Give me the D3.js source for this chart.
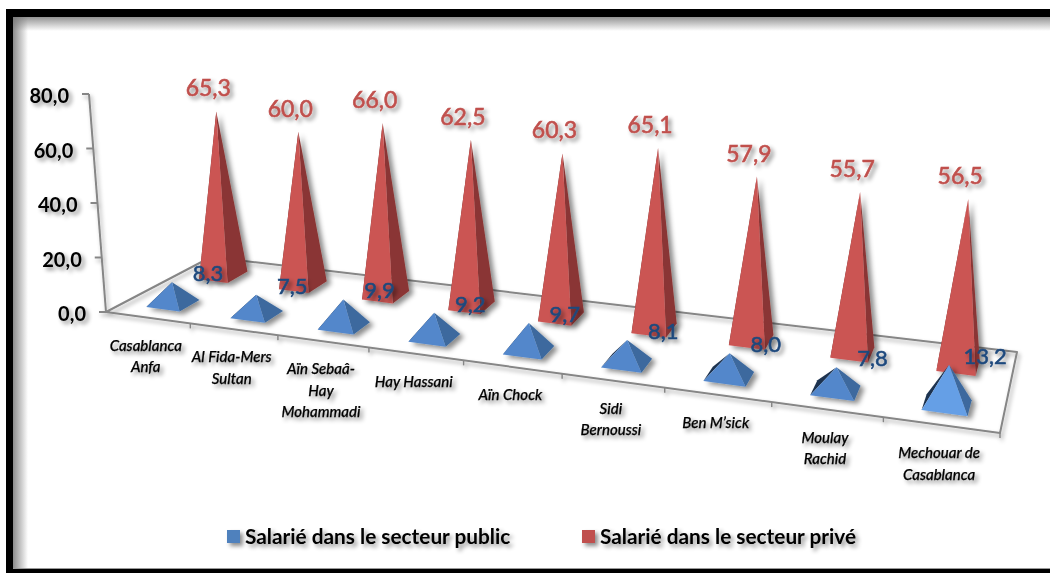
<!DOCTYPE html>
<html><head><meta charset="utf-8">
<script src="https://cdn.jsdelivr.net/npm/d3@7"></script>
<style>html,body{margin:0;padding:0;background:#fff;overflow:hidden}svg{display:block}text{font-family:Lato,"Noto Sans",sans-serif}</style>
</head><body><svg id="c" width="1050" height="573"></svg>
<script>
const categories=[["Casablanca","Anfa"],["Al Fida-Mers","Sultan"],["Aïn Sebaâ-","Hay","Mohammadi"],["Hay Hassani"],["Aïn Chock"],["Sidi","Bernoussi"],["Ben M’sick"],["Moulay","Rachid"],["Mechouar de","Casablanca"]];
const publicValues=[8.3,7.5,9.9,9.2,9.7,8.1,8.0,7.8,13.2];
const privateValues=[65.3,60.0,66.0,62.5,60.3,65.1,57.9,55.7,56.5];
const yTicks=[0,20,40,60,80];
const seriesNames=["Salarié dans le secteur public","Salarié dans le secteur privé"];

const fmt=v=>d3.format(".1f")(v).replace(".",",");
const svg=d3.select("#c");
const defs=svg.append("defs");
function shadow(id,dx,dy,b,o){const f=defs.append("filter").attr("id",id).attr("x","-30%").attr("y","-30%").attr("width","170%").attr("height","170%");
 f.append("feDropShadow").attr("dx",dx).attr("dy",dy).attr("stdDeviation",b).attr("flood-color","#000").attr("flood-opacity",o);}
shadow("sT",3,3,2.2,.45);shadow("sM",4,3,2.5,.45);shadow("sL",2,3,2,.35);
function grad(id,x1,y1,x2,y2){const g=defs.append("linearGradient").attr("id",id).attr("x1",x1).attr("y1",y1).attr("x2",x2).attr("y2",y2);
 g.append("stop").attr("offset",0).attr("stop-color","#777").attr("stop-opacity",.85);g.append("stop").attr("offset",1).attr("stop-color","#777").attr("stop-opacity",0);}
grad("gT",0,0,0,1);grad("gL",0,0,1,0);

// frame
svg.append("rect").attr("x",13).attr("y",16).attr("width",1037).attr("height",15).attr("fill","url(#gT)");
svg.append("rect").attr("x",13).attr("y",16).attr("width",15).attr("height",553).attr("fill","url(#gL)");
svg.append("rect").attr("x",6).attr("y",9).attr("width",1044).attr("height",8).attr("fill","#000");
svg.append("rect").attr("x",6).attr("y",9).attr("width",7).attr("height",564).attr("fill","#000");
svg.append("rect").attr("x",6).attr("y",569).attr("width",1044).attr("height",4).attr("fill","#000");
svg.append("rect").attr("x",13).attr("y",568).attr("width",1037).attr("height",1).attr("fill","#999");

// projection of the chart floor
const frontX=d3.scaleLinear().domain([0,1]).range([106,1000]),frontY=d3.scaleLinear().domain([0,1]).range([312,433]);
const backX=d3.scaleLinear().domain([0,1]).range([211,1017]),backY=d3.scaleLinear().domain([0,1]).range([257,352]);
const warp=t=>t/(1.2-0.2*t);
const catScale=d3.scaleLinear().domain([0,categories.length]).range([0,1]);
function floor(c,v){const f=warp(catScale(c));
 return [frontX(f)+(backX(f)-frontX(f))*v,frontY(f)+(backY(f)-frontY(f))*v];}
const lean=d3.scaleLinear().domain([0,1]).range([-0.125,0.2]);
const rise=(f,v)=>2.49+0.49*f+(0.75-v)*(0.13+0.12*f);
function apex(c,v,val){const p=floor(c,v),f=warp(catScale(c));return [p[0]+lean(f)*val,p[1]-rise(f,v)*val];}
const path=pts=>d3.line()(pts)+"Z";

// axis
const axisX=d3.scaleLinear().domain([0,80]).range([106,89]),axisY=d3.scaleLinear().domain([0,80]).range([312,94]);
const n=categories.length;
const grid=svg.append("g").attr("filter","url(#sL)").attr("fill","none").attr("stroke","#868686").attr("stroke-width",2);
grid.append("path").attr("d",path([floor(0,0),floor(n,0),floor(n,1),floor(0,1)])).attr("stroke-linejoin","round");
grid.append("line").attr("x1",axisX(0)).attr("y1",axisY(0)).attr("x2",axisX(80)).attr("y2",axisY(80));
grid.selectAll(".yt").data(yTicks).join("line").attr("x1",d=>axisX(d)-7).attr("y1",d=>axisY(d)).attr("x2",d=>axisX(d)).attr("y2",d=>axisY(d));
grid.selectAll(".xt").data(d3.range(1,n+1)).join("line").attr("stroke-width",1.5).attr("x1",d=>floor(d,0)[0]).attr("y1",d=>floor(d,0)[1]).attr("x2",d=>floor(d,0)[0]).attr("y2",d=>floor(d,0)[1]+5);

// pyramids
function pyramid(g,c,v,val,hu,hv,cols){
 const L=floor(c-hu,v-hv),F=floor(c+hu,v-hv),R=floor(c+hu,v+hv),B=floor(c-hu,v+hv),A=apex(c,v,val);
 const p=g.append("g").attr("filter","url(#sM)");
 p.append("path").attr("d",path([B,L,A])).attr("fill",cols[2]);
 p.append("path").attr("d",path([F,R,A])).attr("fill",cols[1]);
 p.append("path").attr("d",path([L,F,A])).attr("fill",cols[0]);
}
const gRed=svg.append("g"),gBlue=svg.append("g");
privateValues.forEach((d,i)=>pyramid(gRed,i+.5,.75,d,.18,.1,["#cb5553","#8a3634","#6e2b2a"]));
publicValues.forEach((d,i)=>pyramid(gBlue,i+.5,.25,d,.2,.1,[i===8?"#659fe6":"#5387cb","#3c699e","#1d3350"]));

// text
const gT=svg.append("g").attr("filter","url(#sT)");
gT.selectAll(".yl").data(yTicks).join("text").attr("x",d=>axisX(d)-20).attr("y",d=>axisY(d)+9).attr("text-anchor","end")
 .attr("font-size",20).attr("font-weight",700).attr("fill","#000").text(fmt);
gT.selectAll(".rv").data(privateValues).join("text").attr("text-anchor","middle").attr("font-size",23).attr("fill","#c0504d").attr("stroke","#c0504d").attr("stroke-width",.6)
 .attr("x",(d,i)=>apex(i+.5,.75,d)[0]-8).attr("y",(d,i)=>apex(i+.5,.75,d)[1]-15).text(fmt);
gT.selectAll(".bv").data(publicValues).join("text").attr("text-anchor","middle").attr("font-size",22).attr("fill","#1f497d").attr("stroke","#1f497d").attr("stroke-width",.6)
 .attr("x",(d,i)=>apex(i+.5,.25,d)[0]+36).attr("y",(d,i)=>apex(i+.5,.25,d)[1]-1).text(fmt);
const gC=gT.selectAll(".cl").data(categories).join("text").attr("text-anchor","middle").attr("font-size",15).attr("font-style","italic").attr("font-weight",500).attr("fill","#000").attr("stroke","#000").attr("stroke-width",.25);
gC.each(function(d,i){const p=floor(i+.5,0);d3.select(this).selectAll("tspan").data(d).join("tspan").attr("x",p[0]-2).attr("y",(t,j)=>p[1]+33+j*21.5).text(t=>t);});

// legend
const legendX=[227,582],legendCols=["#4f81bd","#c0504d"];
const lg=svg.append("g").attr("filter","url(#sT)");
lg.selectAll("rect").data(seriesNames).join("rect").attr("x",(d,i)=>legendX[i]).attr("y",530).attr("width",13).attr("height",13).attr("fill",(d,i)=>legendCols[i]);
lg.selectAll("text").data(seriesNames).join("text").attr("x",(d,i)=>legendX[i]+18).attr("y",544).attr("font-size",20.8).attr("font-weight",700).attr("fill","#000").text(d=>d);
</script></body></html>
